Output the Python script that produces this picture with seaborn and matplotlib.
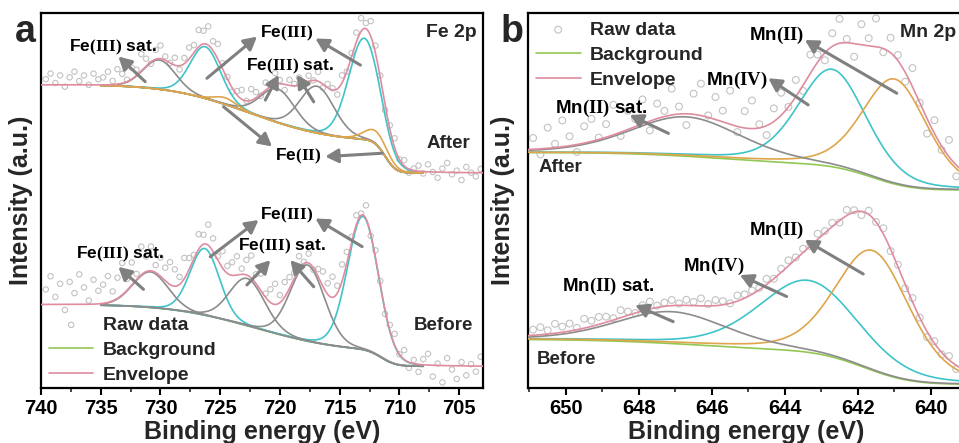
import math
import numpy as np
import matplotlib
matplotlib.use("Agg")
import matplotlib.pyplot as plt
from matplotlib.ticker import MultipleLocator
import seaborn as sns

# ── Fe 2p fitted peaks: centre (eV), height (a.u.), FWHM (eV), species ──
FE_AFTER_CENTRE = [712.95, 726.25, 730.1, 720.2, 716.9, 711.9, 724.6]
FE_AFTER_HEIGHT = [27.0, 13.8, 7.8, 9.0, 12.5, 3.5, 1.8]
FE_AFTER_FWHM = [3.05, 3.0, 3.2, 3.4, 3.4, 2.4, 2.2]
FE_AFTER_KIND = ["Fe3", "Fe3", "sat", "sat", "sat", "Fe2", "Fe2"]
FE_AFTER_BG_LOW = 57.3
FE_AFTER_BG_STEP = [711.2, 722.5]
FE_AFTER_BG_RISE = [8.5, 15.0]
FE_AFTER_BG_WIDTH = [1.0, 7.5]

FE_BEFORE_CENTRE = [713.05, 726.3, 730.85, 722.75, 717.7]
FE_BEFORE_HEIGHT = [35.5, 17.8, 9.5, 12.6, 20.3]
FE_BEFORE_FWHM = [3.06, 2.9, 3.5, 3.5, 3.4]
FE_BEFORE_KIND = ["Fe3", "Fe3", "sat", "sat", "sat"]
FE_BEFORE_BG_LOW = 5.7
FE_BEFORE_BG_STEP = [711.5, 722.0]
FE_BEFORE_BG_RISE = [4.0, 12.5]
FE_BEFORE_BG_WIDTH = [1.3, 8.0]

# ── Mn 2p fitted peaks ──
MN_AFTER_CENTRE = [642.7, 640.98, 646.7]
MN_AFTER_HEIGHT = [26.0, 28.0, 10.5]
MN_AFTER_FWHM = [2.2, 2.1, 3.6]
MN_AFTER_KIND = ["Mn4", "Mn2", "sat"]
MN_AFTER_BG_LOW = 52.8
MN_AFTER_BG_STEP = [641.6, 645.5]
MN_AFTER_BG_RISE = [6.5, 3.5]
MN_AFTER_BG_WIDTH = [1.2, 3.0]

MN_BEFORE_CENTRE = [643.35, 641.58, 647.1]
MN_BEFORE_HEIGHT = [19.2, 32.0, 8.5]
MN_BEFORE_FWHM = [3.2, 2.4, 3.6]
MN_BEFORE_KIND = ["Mn4", "Mn2", "sat"]
MN_BEFORE_BG_LOW = 1.0
MN_BEFORE_BG_STEP = [641.8, 646.0]
MN_BEFORE_BG_RISE = [8.5, 3.5]
MN_BEFORE_BG_WIDTH = [1.4, 3.5]

FE_RAW_E = np.arange(739.6, 703.1, -0.4)
FE_AFTER_RESID = [
    1.5, 3.0, 0.5, 2.5, -0.5, 2.0, 3.5, 1.0, 2.5, 0.0, 3.0, 1.5, 2.0,
    3.5, 1.0, 4.0, 2.5, 0.5, 3.0, 1.5, 4.5, 2.0, -0.5, 2.5, 3.5, 1.0,
    0.0, 2.0, -1.0, 1.5, 3.0, 2.0, 4.5, 3.5, 5.0, 2.5, 4.0, 1.5, 0.5,
    -1.0, 1.0, 2.5, 0.0, 3.0, 1.5, -0.5, 2.0, 0.5, 3.0, 1.0, -1.5, 1.5,
    0.5, 2.0, -0.5, 1.5, 0.0, 2.5, -1.0, 1.0, 0.5, -1.5, 2.0, 0.0, 1.0,
    2.5, 3.5, 1.5, 4.0, 2.0, 0.5, -1.5, 1.0, 2.5, 0.0, 1.5, -1.0, 0.5,
    1.5, -0.5, 2.0, 0.0, -1.5, 1.0, 2.5, -0.5, 0.5, -2.0, 1.5, 0.0, -1.0, 1.0,
]
FE_BEFORE_RESID = [
    4.0, 7.5, 2.0, 5.5, -1.5, 6.0, 3.0, 8.0, 4.5, 1.0, 6.5, 3.5, 5.0,
    7.0, 2.5, 5.5, 8.5, 3.0, 6.0, 1.5, 7.5, 4.0, 6.5, 2.0, 5.0, 3.5,
    6.0, 4.5, 2.0, 5.5, 3.0, 1.0, 4.0, 2.5, 5.5, 3.5, 1.0, 4.5, 2.0,
    3.5, 5.0, 1.5, 4.0, 6.0, 2.5, 4.5, 1.0, 3.5, 5.5, 2.0, 4.0, 3.0,
    1.5, 3.5, 0.5, 2.5, -0.5, 2.0, 4.0, 3.0, 5.5, 2.0, 4.5, 3.0, 1.5,
    2.5, 0.5, 3.5, -0.5, 2.0, 1.0, -1.0, 1.5, 3.0, 0.0, 2.5, -1.5, 1.0,
    -2.0, 1.5, 3.0, -3.0, 0.5, -4.5, 2.0, -1.0, -3.5, 1.0, -2.5, 0.5, -1.5, 2.5,
]
MN_RAW_E = np.arange(650.9, 639.0, -0.2)
MN_AFTER_RESID = [
    3.0, -1.5, 5.5, 1.0, 7.0, 2.5, -2.0, 4.5, 6.0, 0.5,
    3.5, 8.0, -1.0, 5.0, 2.0, 6.5, -2.5, 4.0, 1.5, 7.0,
    2.0, -3.0, 5.5, 8.5, 0.5, 6.0, 3.0, 9.0, -1.5, 4.5,
    7.5, 1.0, -2.5, 3.5, 6.0, 0.0, 4.5, -1.5, 5.0, 2.0,
    -2.0, 3.5, 6.5, 1.0, -3.5, 5.5, 2.0, 7.5, -1.0, 4.0,
    1.5, -2.5, 5.0, 0.0, -4.0, 3.5, -1.0, 4.5, -3.0, 2.0,
]
MN_BEFORE_RESID = [
    1.5, 2.0, 1.0, 2.5, 1.5, 2.0, 0.5, 2.5, 1.5, 2.0,
    1.5, 0.5, 2.0, 1.0, 0.0, 1.5, 2.0, 0.5, 1.0, 1.5,
    0.5, 1.5, 1.0, 2.0, 0.5, 1.5, 1.0, 0.0, 1.5, 1.0,
    1.0, 0.5, 1.5, 0.0, 1.0, 1.5, 0.5, 1.0, 0.0, 1.5,
    0.5, 1.0, -0.5, 1.5, 0.5, -1.0, 1.0, 0.0, 1.5, -0.5,
    0.5, -1.0, 1.0, 0.0, -1.5, 0.5, -0.5, 1.0, -1.0, 0.5,
]

KIND_COLOR = {"Fe3": "#3ec4c8", "Mn4": "#3ec4c8", "sat": "#8c8c8c",
              "Fe2": "#dea54c", "Mn2": "#dea54c"}
ENV_COLOR = "#de8c9e"
BG_COLOR = "#92c852"
RAW_COLOR = "#c2c2c2"
ARROW_COLOR = "#808080"

sns.set_theme(style="ticks")
plt.rcParams["font.family"] = ["Liberation Sans", "DejaVu Sans"]
plt.rcParams["font.weight"] = "bold"
plt.rcParams["mathtext.fontset"] = "custom"
plt.rcParams["mathtext.bf"] = "Liberation Serif:bold"
plt.rcParams["mathtext.rm"] = "Liberation Serif"

erf = np.vectorize(math.erf)


def peak(e, c, h, w, eta):
    x = (e - c) / w
    return h * ((1 - eta) * np.exp(-4 * np.log(2) * x ** 2) + eta / (1 + 4 * x ** 2))


def background(e, low, steps, rises, widths):
    out = np.full(e.shape, low, dtype=float)
    for c, h, w in zip(steps, rises, widths):
        out += h * 0.5 * (1 + erf((e - c) / w))
    return out


def draw_spectrum(ax, e_full, e_fit, centre, height, fwhm, kind, bg_low, bg_step,
                  bg_rise, bg_width, eta, raw_e, raw_res, msize, label):
    bg_fit = background(e_fit, bg_low, bg_step, bg_rise, bg_width)
    env = background(e_full, bg_low, bg_step, bg_rise, bg_width)
    env_raw = background(raw_e, bg_low, bg_step, bg_rise, bg_width)
    for c, h, w in zip(centre, height, fwhm):
        env = env + peak(e_full, c, h, w, eta)
        env_raw = env_raw + peak(raw_e, c, h, w, eta)
    assert len(raw_res) == len(raw_e)
    sns.scatterplot(x=raw_e, y=env_raw + np.array(raw_res), ax=ax, s=msize,
                    facecolor="none", edgecolor=RAW_COLOR, linewidth=0.8,
                    label="Raw data" if label else None, zorder=1, legend=False)
    ax.plot(e_fit, bg_fit, color=BG_COLOR, lw=1.2, zorder=2,
            label="Background" if label else None)
    for c, h, w, k in zip(centre, height, fwhm, kind):
        ax.plot(e_fit, bg_fit + peak(e_fit, c, h, w, eta), color=KIND_COLOR[k],
                lw=1.2, zorder=3)
    ax.plot(e_full, env, color=ENV_COLOR, lw=1.2, zorder=4,
            label="Envelope" if label else None)


W, H = 959, 443
fig = plt.figure(figsize=(W / 100, H / 100), dpi=100)
ax_a = fig.add_axes([41 / W, 55 / H, 442 / W, 375 / H])
ax_b = fig.add_axes([528 / W, 55 / H, 437 / W, 375 / H])

fe_full = np.linspace(740, 703, 900)
fe_fit = np.linspace(735, 708, 700)
draw_spectrum(ax_a, fe_full, fe_fit, FE_AFTER_CENTRE, FE_AFTER_HEIGHT, FE_AFTER_FWHM,
              FE_AFTER_KIND, FE_AFTER_BG_LOW, FE_AFTER_BG_STEP, FE_AFTER_BG_RISE,
              FE_AFTER_BG_WIDTH, 0.1, FE_RAW_E, FE_AFTER_RESID, 15, True)
draw_spectrum(ax_a, fe_full, fe_fit, FE_BEFORE_CENTRE, FE_BEFORE_HEIGHT, FE_BEFORE_FWHM,
              FE_BEFORE_KIND, FE_BEFORE_BG_LOW, FE_BEFORE_BG_STEP, FE_BEFORE_BG_RISE,
              FE_BEFORE_BG_WIDTH, 0.1, FE_RAW_E, FE_BEFORE_RESID, 15, False)

mn_full = np.linspace(651.1, 639.0, 700)
draw_spectrum(ax_b, mn_full, mn_full, MN_AFTER_CENTRE, MN_AFTER_HEIGHT, MN_AFTER_FWHM,
              MN_AFTER_KIND, MN_AFTER_BG_LOW, MN_AFTER_BG_STEP, MN_AFTER_BG_RISE,
              MN_AFTER_BG_WIDTH, 0.3, MN_RAW_E, MN_AFTER_RESID, 24, True)
draw_spectrum(ax_b, mn_full, mn_full, MN_BEFORE_CENTRE, MN_BEFORE_HEIGHT, MN_BEFORE_FWHM,
              MN_BEFORE_KIND, MN_BEFORE_BG_LOW, MN_BEFORE_BG_STEP, MN_BEFORE_BG_RISE,
              MN_BEFORE_BG_WIDTH, 0.3, MN_RAW_E, MN_BEFORE_RESID, 24, False)

ax_a.set_xlim(740, 703)
ax_b.set_xlim(651.04, 639.06)
ax_a.xaxis.set_major_locator(MultipleLocator(5))
ax_a.xaxis.set_minor_locator(MultipleLocator(2.5))
ax_b.xaxis.set_major_locator(MultipleLocator(2))
ax_b.xaxis.set_minor_locator(MultipleLocator(1))

for ax, lab_x in ((ax_a, -0.018), (ax_b, -0.03)):
    ax.set_ylim(0, 100)
    ax.set_yticks([])
    for sp in ax.spines.values():
        sp.set_visible(True)
        sp.set_linewidth(1.6)
        sp.set_color("black")
    ax.tick_params(axis="x", which="major", direction="out", length=5, width=1.5,
                   labelsize=14.5, pad=3, colors="black")
    ax.tick_params(axis="x", which="minor", direction="out", length=3, width=1.2)
    for t in ax.get_xticklabels():
        t.set_fontweight("bold")
    ax.set_xlabel("Binding energy (eV)", fontsize=18, fontweight="bold", labelpad=1)
    ax.set_ylabel("Intensity (a.u.)", fontsize=18, fontweight="bold")
    ax.yaxis.set_label_coords(lab_x, 0.5)
    ax.set_facecolor("white")

leg_kw = dict(frameon=False, prop={"weight": "bold", "size": 14}, handlelength=2.3,
              handletextpad=0.5, labelspacing=0.38, scatterpoints=1, borderpad=0.2)
ax_a.legend(loc="lower left", bbox_to_anchor=(0.0, -0.01), borderaxespad=0.2, **leg_kw)
ax_b.legend(loc="upper left", bbox_to_anchor=(0.0, 0.999), borderaxespad=0.2, **leg_kw)

# ── annotations: label, text position, arrows (tail -> head) ──
SAT3 = r"Fe$\mathbf{(III)}$ sat."
FE3 = r"Fe$\mathbf{(III)}$"
FE2 = r"Fe$\mathbf{(II)}$"
MN2 = r"Mn$\mathbf{(II)}$"
MN4 = r"Mn$\mathbf{(IV)}$"
SATMN = r"Mn$\mathbf{(II)}$ sat."
notes = [
    (ax_a, SAT3, (733.96, 90.7), [((731.28, 81.7), (733.52, 88.4))], 12.5),
    (ax_a, FE3, (719.4, 94.6), [((726.11, 82.6), (721.92, 93.7)),
                                ((713.26, 86.1), (717.03, 93.2))], 12.5),
    (ax_a, SAT3, (719.13, 85.7), [((721.22, 76.8), (720.11, 83.5)),
                                  ((717.17, 76.3), (718.57, 83.5))], 12.5),
    (ax_a, FE2, (718.43, 61.7), [((724.72, 75.0), (720.66, 64.4)),
                                 ((711.44, 62.6), (716.2, 61.7))], 12.5),
    (ax_a, SAT3, (733.38, 35.5), [((731.42, 26.3), (733.52, 32.3))], 12.5),
    (ax_a, FE3, (719.4, 46.1), [((725.83, 35.0), (721.79, 44.8)),
                                ((713.12, 37.7), (717.03, 45.2))], 12.5),
    (ax_a, SAT3, (719.83, 37.7), [((722.76, 27.5), (720.8, 34.1)),
                                  ((717.17, 27.0), (719.13, 34.1))], 12.5),
    (ax_b, MN2, (644.22, 94.1), [((640.93, 78.6), (643.45, 92.8))], 13.5),
    (ax_b, MN4, (645.32, 82.1), [((643.36, 75.5), (644.45, 82.6))], 13.5),
    (ax_b, SATMN, (649.02, 74.6), [((647.19, 67.9), (648.25, 72.8))], 13.5),
    (ax_b, MN2, (644.22, 42.1), [((641.85, 30.4), (643.45, 39.5))], 13.5),
    (ax_b, MN4, (645.96, 32.4), [((643.95, 24.4), (645.23, 30.1))], 13.5),
    (ax_b, SATMN, (648.84, 27.0), [((647.06, 17.7), (648.1, 22.1))], 13.5),
]
for ax, txt, pos, arrows, fs in notes:
    ax.text(pos[0], pos[1], txt, ha="center", va="center", fontsize=fs,
            fontweight="bold", color="black", zorder=7)
    for tail, head in arrows:
        ax.annotate("", xy=head, xytext=tail, zorder=6,
                    arrowprops=dict(arrowstyle="-|>,head_length=0.55,head_width=0.3",
                                    color=ARROW_COLOR, lw=2.2, shrinkA=0, shrinkB=0,
                                    mutation_scale=14))

ax_a.text(0.986, 0.949, "Fe 2p", transform=ax_a.transAxes, ha="right", va="center",
          fontsize=14, fontweight="bold")
ax_b.text(0.851, 0.949, "Mn 2p", transform=ax_b.transAxes, ha="left", va="center",
          fontsize=14, fontweight="bold")
ax_a.text(0.971, 0.653, "After", transform=ax_a.transAxes, ha="right", va="center",
          fontsize=13.5, fontweight="bold")
ax_a.text(0.977, 0.168, "Before", transform=ax_a.transAxes, ha="right", va="center",
          fontsize=13.5, fontweight="bold")
ax_b.text(0.023, 0.589, "After", transform=ax_b.transAxes, ha="left", va="center",
          fontsize=13.5, fontweight="bold")
ax_b.text(0.020, 0.077, "Before", transform=ax_b.transAxes, ha="left", va="center",
          fontsize=13.5, fontweight="bold")

fig.text(15 / W, 1 - 42 / H, "a", ha="left", va="baseline", fontsize=27, fontweight="bold")
fig.text(501 / W, 1 - 42 / H, "b", ha="left", va="baseline", fontsize=27, fontweight="bold")

fig.savefig("out.png", dpi=100, facecolor="white")
